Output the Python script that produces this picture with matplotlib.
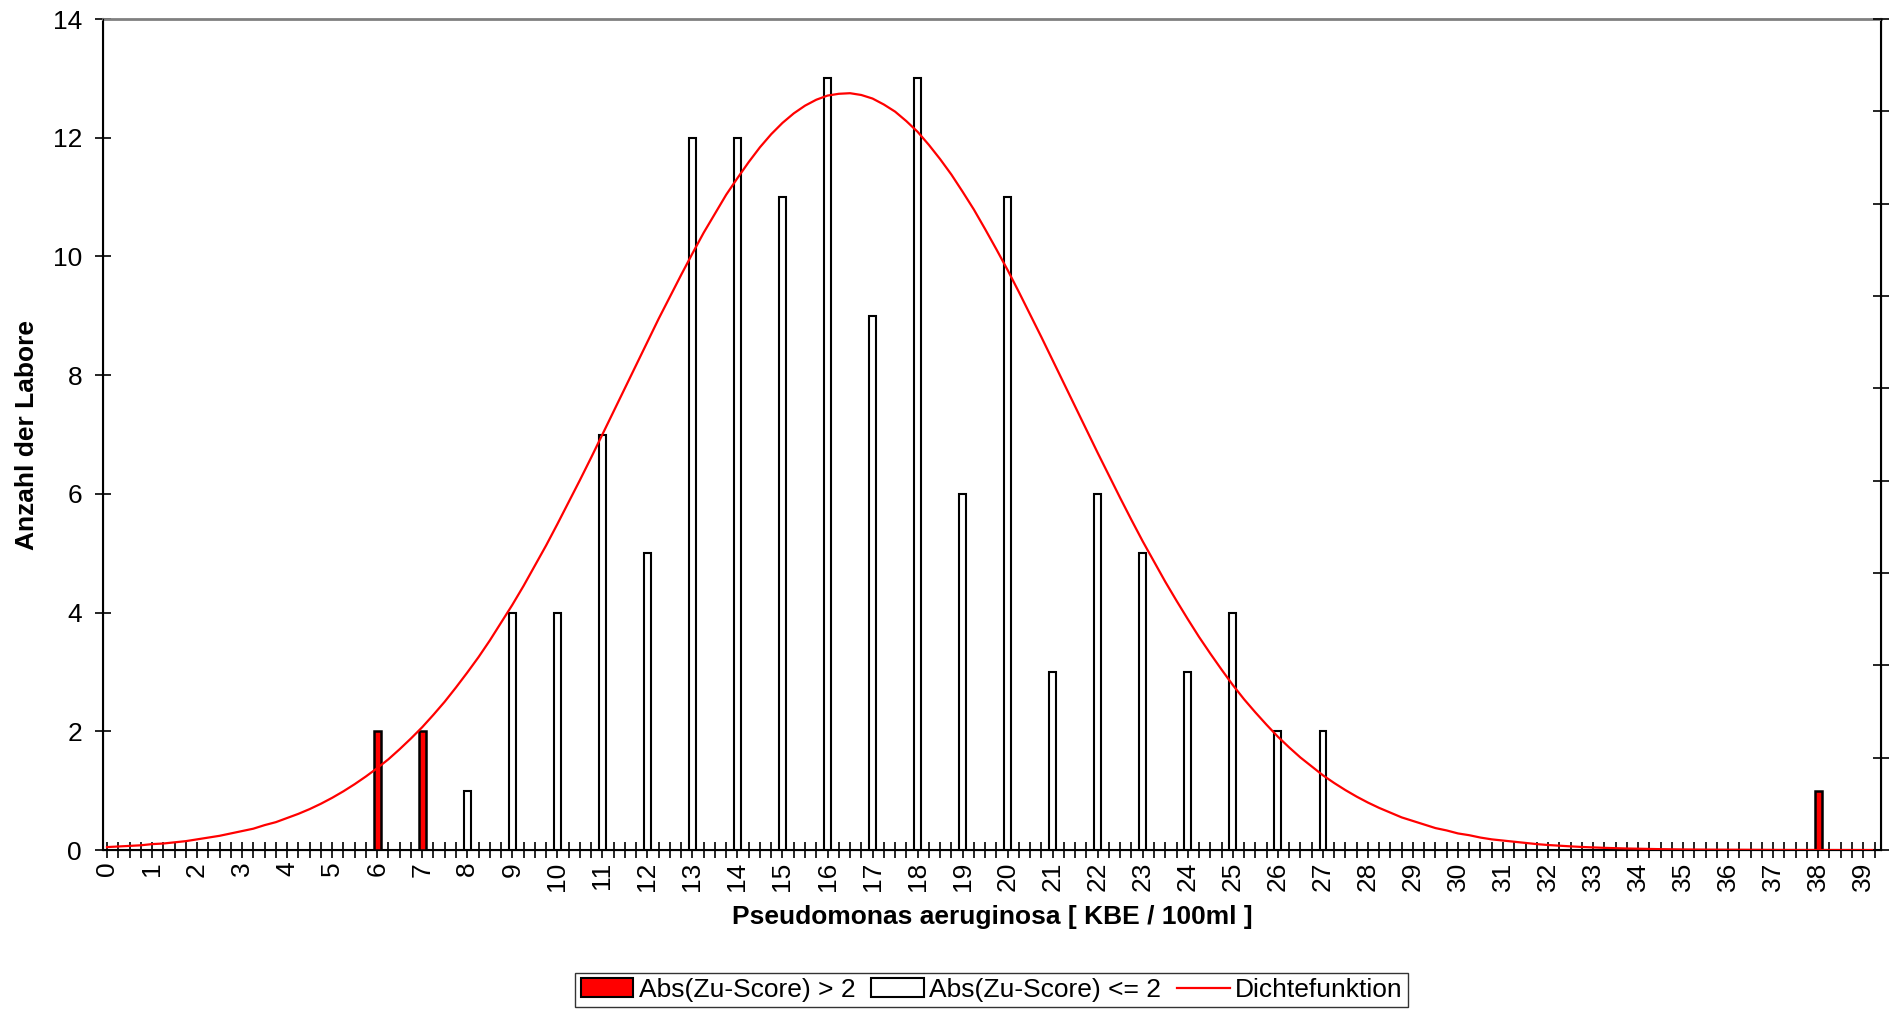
import numpy as np
import matplotlib
matplotlib.use("Agg")
import matplotlib.pyplot as plt
from matplotlib.patches import Patch
from matplotlib.lines import Line2D

plt.rcParams['font.family'] = ['Liberation Sans', 'DejaVu Sans']

# Laborwerte (Anzahl der Labore je KBE-Wert)
red_x = [6, 7, 38]
red_n = [2, 2, 1]
white_x = [8, 9, 10, 11, 12, 13, 14, 15, 16, 17, 18, 19, 20, 21, 22, 23, 24, 25, 26, 27]
white_n = [1, 4, 4, 7, 5, 12, 12, 11, 13, 9, 13, 6, 11, 3, 6, 5, 3, 4, 2, 2]

dens_x = np.arange(0, 39.5, 0.25)
dens_y = [0.05, 0.06, 0.07, 0.08,
          0.10, 0.11, 0.13, 0.15,
          0.18, 0.21, 0.24, 0.28,
          0.32, 0.36, 0.42, 0.47,
          0.54, 0.61, 0.69, 0.78,
          0.88, 0.99, 1.11, 1.24,
          1.38, 1.53, 1.70, 1.88,
          2.07, 2.28, 2.50, 2.74,
          2.99, 3.25, 3.53, 3.83,
          4.13, 4.45, 4.79, 5.13,
          5.49, 5.86, 6.23, 6.61,
          7.00, 7.39, 7.78, 8.17,
          8.56, 8.95, 9.32, 9.69,
          10.05, 10.40, 10.72, 11.04,
          11.32, 11.59, 11.84, 12.06,
          12.25, 12.41, 12.54, 12.64,
          12.71, 12.74, 12.75, 12.72,
          12.66, 12.56, 12.44, 12.28,
          12.10, 11.88, 11.64, 11.38,
          11.09, 10.79, 10.46, 10.12,
          9.77, 9.40, 9.02, 8.64,
          8.25, 7.86, 7.47, 7.08,
          6.69, 6.31, 5.93, 5.56,
          5.20, 4.86, 4.52, 4.20,
          3.89, 3.59, 3.31, 3.04,
          2.78, 2.54, 2.32, 2.11,
          1.91, 1.73, 1.56, 1.41,
          1.26, 1.13, 1.01, 0.90,
          0.80, 0.71, 0.63, 0.55,
          0.49, 0.43, 0.37, 0.33,
          0.28, 0.25, 0.21, 0.18,
          0.16, 0.14, 0.12, 0.10,
          0.085, 0.073, 0.062, 0.052,
          0.044, 0.037, 0.031, 0.026,
          0.022, 0.018, 0.015, 0.012,
          0.010, 0.008, 0.007, 0.006,
          0.005, 0.004, 0.003, 0.0025,
          0.002, 0.0017, 0.001, 0.001,
          0.001, 0.0007, 0.0005, 0.0004,
          0.0, 0.0]

fig = plt.figure(figsize=(18.96, 10.11), dpi=100)
ax = fig.add_axes([0.0543, 0.1592, 0.9377, 0.822])

bw = 0.15
ax.bar(white_x, white_n, width=bw, color="white", edgecolor="black", linewidth=1.5, zorder=3)
ax.bar(red_x, red_n, width=bw, color="red", edgecolor="black", linewidth=1.8, zorder=3)
ax.plot(dens_x[:len(dens_y)], dens_y, color="red", linewidth=1.6, zorder=4)

ax.set_xlim(-0.09, 39.39)
ax.set_ylim(0, 14)
ax.set_yticks(range(0, 15, 2))
ax.set_xticks(range(0, 40))
ax.set_xticks(np.arange(0, 39.3, 0.25), minor=True)
ax.set_xticklabels([str(i) for i in range(40)], rotation=90)

ax.tick_params(axis="y", direction="inout", length=11, width=1.2, labelsize=19, pad=9.5)
ax.tick_params(axis="x", which="both", direction="inout", length=11, width=1.2, labelsize=19, pad=3)

ax.set_xlabel("Pseudomonas aeruginosa [ KBE / 100ml ]", fontsize=19, fontweight="bold", labelpad=10)
ax.set_ylabel("Anzahl der Labore", fontsize=19, fontweight="bold", labelpad=10)

ax.spines["top"].set_color("#808080")
ax.spines["top"].set_linewidth(2)
ax.spines["left"].set_linewidth(1.5)
ax.spines["bottom"].set_linewidth(1.5)
ax.spines["right"].set_linewidth(1.5)

# rechte Achse der Dichtefunktion, ohne Beschriftung
ax2 = ax.twinx()
ax2.set_ylim(0, 9)
ax2.set_yticks(range(0, 10))
ax2.set_yticklabels([])
ax2.tick_params(axis="y", direction="inout", length=11, width=1.2)
ax2.spines["top"].set_visible(False)

handles = [Patch(facecolor="red", edgecolor="black", linewidth=1.5),
           Patch(facecolor="white", edgecolor="black", linewidth=1.5),
           Line2D([0], [0], color="red", linewidth=1.6)]
labels = ["Abs(Zu-Score) > 2", "Abs(Zu-Score) <= 2", "Dichtefunktion"]
leg = fig.legend(handles, labels, loc="center", bbox_to_anchor=(0.523, 0.0208), ncol=3,
                 fontsize=19, frameon=True, fancybox=False, handlelength=2.0,
                 handleheight=0.7, handletextpad=0.2, columnspacing=0.6, borderpad=0.2,
                 borderaxespad=0)
leg.get_frame().set_edgecolor("black")
leg.get_frame().set_linewidth(1.0)

fig.savefig("out.png", dpi=100)
